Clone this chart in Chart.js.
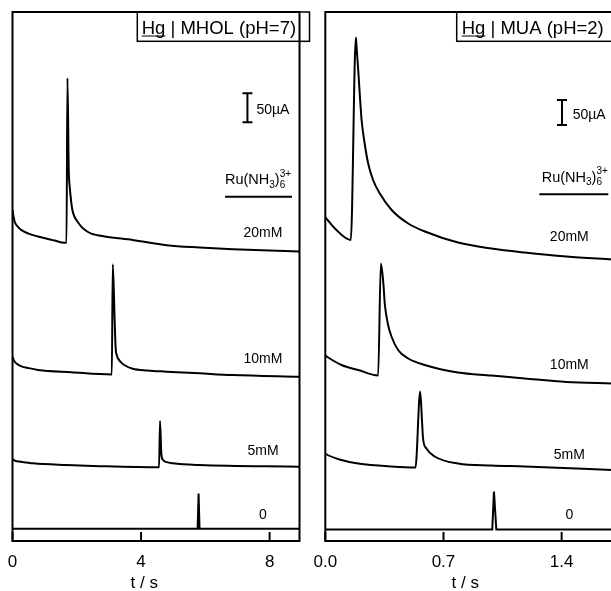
<!DOCTYPE html>
<html>
<head>
<meta charset="utf-8">
<script src="https://cdn.jsdelivr.net/npm/chart.js@4.4.1/dist/chart.umd.min.js"></script>
<style>
  html, body { margin: 0; padding: 0; overflow: hidden; background: #fff; width: 611px; height: 591px; }
  canvas { position: absolute; top: 0; }
  #mhol { left: 0; }
  #mua { left: 311px; }
</style>
</head>
<body>
<canvas id="mhol" width="311" height="591"></canvas>
<canvas id="mua" width="320" height="591"></canvas>
<script>
const traceLabels = ['20mM', '10mM', '5mM', '0'];

// Hg | MHOL (pH=7): t in s, current in µA (traces stacked)
const mholTicks = [0, 4, 8];
const mholT20 = [0, 0.03, 0.07, 0.15, 0.28, 0.5, 0.79, 1.31, 1.62, 1.68, 1.71, 1.75, 1.78, 1.83, 1.87, 1.93, 2.03, 2.14, 2.31, 2.45, 2.87, 3.74, 4.80, 5.82, 6.85, 8.93];
const mholI20 = [571, 560, 550, 543, 536, 530, 525, 518, 514, 514, 798, 640, 611, 583, 569, 559, 550, 542, 534, 530, 525, 519, 510, 506, 503, 499];
const mholT10 = [0, 0.03, 0.07, 0.15, 0.28, 0.5, 0.79, 1.83, 3.09, 3.12, 3.18, 3.21, 3.25, 3.28, 3.38, 3.49, 3.74, 4.2, 4.79, 5.82, 6.85, 8.93];
const mholI10 = [318, 313, 309, 305, 301, 298, 295, 291, 287, 477, 378, 332, 320, 315, 308, 303, 297, 294, 292, 289, 286, 283];
const mholT5 = [0, 0.1, 0.22, 0.64, 1.68, 2.71, 4.56, 4.59, 4.63, 4.68, 4.8, 4.99, 5.82, 8.93];
const mholI5 = [141, 138, 137, 134, 131, 129, 127, 207, 151, 140, 136, 134, 131, 128];
const mholT0 = [0, 5.76, 5.79, 5.82, 8.93];
const mholI0 = [21, 21, 82, 21, 21];

// Hg | MUA (pH=2)
const muaTicks = [0.0, 0.7, 1.4];
const muaT20 = [0, 0.014, 0.057, 0.151, 0.181, 0.185, 0.195, 0.205, 0.215, 0.230, 0.254, 0.283, 0.323, 0.393, 0.491, 0.590, 0.786, 0.984, 1.181, 1.428, 1.70];
const muaI20 = [648, 642, 625, 602, 1007, 989, 942, 889, 842, 802, 755, 722, 695, 662, 635, 619, 597, 585, 577, 569, 563];
const muaT10 = [0, 0.008, 0.096, 0.195, 0.313, 0.329, 0.343, 0.353, 0.372, 0.392, 0.431, 0.491, 0.589, 0.786, 0.984, 1.181, 1.428, 1.70];
const muaI10 = [371, 369, 352, 342, 331, 555, 519, 472, 432, 409, 382, 365, 352, 337, 331, 325, 318, 315];
const muaT5 = [0, 0.008, 0.096, 0.195, 0.392, 0.534, 0.562, 0.573, 0.579, 0.599, 0.648, 0.786, 0.984, 1.181, 1.70];
const muaI5 = [175, 173, 162, 155, 149, 147, 299, 239, 205, 185, 169, 155, 151, 149, 142];
const muaT0 = [0, 0.989, 0.999, 1.013, 1.70];
const muaI0 = [23, 23, 99, 23, 23];

const FONT = '"Liberation Sans", Arial, sans-serif';

function toPoints(ts, vals) {
  return ts.map((t, i) => ({ x: t, y: vals[i] }));
}

function drawRu(ctx, x, base) {
  ctx.textAlign = 'left';
  ctx.font = '14.5px ' + FONT;
  ctx.fillText('Ru(NH', x, base);
  x += ctx.measureText('Ru(NH').width;
  ctx.font = '10px ' + FONT;
  ctx.fillText('3', x, base + 3.5);
  x += ctx.measureText('3').width;
  ctx.font = '14.5px ' + FONT;
  ctx.fillText(')', x, base);
  x += ctx.measureText(')').width;
  ctx.font = '10px ' + FONT;
  ctx.fillText('6', x, base + 3.5);
  ctx.fillText('3+', x, base - 7.5);
}

function panelDecor(p) {
  return {
    id: 'panelDecor',
    afterDraw(chart) {
      const { ctx, chartArea: a, scales: { x, y } } = chart;
      ctx.save();
      ctx.strokeStyle = '#000';
      ctx.fillStyle = '#000';

      // frame + inward ticks
      ctx.lineWidth = 2;
      ctx.strokeRect(a.left, a.top, a.right - a.left, a.bottom - a.top);
      x.ticks.forEach((tk) => {
        const px = x.getPixelForValue(tk.value);
        ctx.beginPath();
        ctx.moveTo(px, a.bottom);
        ctx.lineTo(px, a.bottom - 9);
        ctx.stroke();
      });

      // title box
      ctx.lineWidth = 1.5;
      ctx.strokeRect(p.boxLeft, a.top, a.right - p.boxLeft + 10, 29.3);
      ctx.font = '18.5px ' + FONT;
      ctx.textAlign = 'left';
      ctx.textBaseline = 'alphabetic';
      ctx.fillText(p.title, p.boxLeft + p.titlePad, a.top + 22);
      const hgW = ctx.measureText('Hg').width;
      ctx.lineWidth = 1;
      ctx.beginPath();
      ctx.moveTo(p.boxLeft + p.titlePad, a.top + 24);
      ctx.lineTo(p.boxLeft + p.titlePad + hgW, a.top + 24);
      ctx.stroke();

      // 50 µA scale bar
      const bx = x.getPixelForValue(p.barT);
      const by1 = y.getPixelForValue(p.barTop);
      const by2 = y.getPixelForValue(p.barTop - 50);
      ctx.lineWidth = 2;
      ctx.beginPath();
      ctx.moveTo(bx, by1); ctx.lineTo(bx, by2);
      ctx.moveTo(bx - 5, by1); ctx.lineTo(bx + 5, by1);
      ctx.moveTo(bx - 5, by2); ctx.lineTo(bx + 5, by2);
      ctx.stroke();
      ctx.font = '14px ' + FONT;
      ctx.fillText('50µA', bx + p.barTextGap, (by1 + by2) / 2 + 6);

      // Ru(NH3)6 3+ header
      drawRu(ctx, p.ruX, p.ruBase);
      ctx.lineWidth = 2;
      ctx.beginPath();
      ctx.moveTo(p.ruLine[0], p.ruLine[2]);
      ctx.lineTo(p.ruLine[1], p.ruLine[2]);
      ctx.stroke();

      // concentration labels
      ctx.font = '14px ' + FONT;
      ctx.textAlign = 'center';
      traceLabels.forEach((lab, i) => ctx.fillText(lab, p.labelX, p.labelBase[i]));

      // axis title
      ctx.font = '17px ' + FONT;
      ctx.fillText('t / s', p.axisTitleX, 588);
      ctx.restore();
    }
  };
}

function makePanel(id, series, ticks, xMax, yMax, fmt, pad, decor) {
  return new Chart(document.getElementById(id), {
    type: 'line',
    data: {
      datasets: series.map((pts, i) => ({
        label: traceLabels[i],
        data: pts,
        borderColor: '#000',
        borderWidth: 2,
        pointRadius: 0,
        // smooth the decays, keep the blank (0) trace as straight segments
        cubicInterpolationMode: i < 3 ? 'monotone' : 'default',
        tension: 0,
        fill: false
      }))
    },
    options: {
      responsive: false,
      animation: false,
      devicePixelRatio: 1,
      events: [],
      layout: { padding: pad },
      plugins: { legend: { display: false }, tooltip: { enabled: false } },
      scales: {
        x: {
          type: 'linear',
          min: 0,
          max: xMax,
          grid: { display: false, drawTicks: false },
          border: { display: false },
          afterBuildTicks: (s) => { s.ticks = ticks.map((v) => ({ value: v })); },
          afterFit: (s) => { s.height = 50; s.paddingLeft = 0; s.paddingRight = 0; },
          ticks: {
            autoSkip: false,
            maxRotation: 0,
            padding: 11,
            color: '#000',
            font: { family: FONT, size: 17 },
            callback: fmt
          }
        },
        y: { type: 'linear', display: false, min: 0, max: yMax }
      }
    },
    plugins: [panelDecor(decor)]
  });
}

makePanel('mhol',
  [toPoints(mholT20, mholI20), toPoints(mholT10, mholI10), toPoints(mholT5, mholI5), toPoints(mholT0, mholI0)],
  mholTicks, 8.93, 912, (v) => String(v),
  { left: 12.5, top: 12, right: 11.5, bottom: 0 },
  {
    title: 'Hg | MHOL (pH=7)', boxLeft: 137.3, titlePad: 4.4,
    barT: 7.31, barTop: 772, barTextGap: 9,
    ruX: 225, ruBase: 184, ruLine: [225, 292, 196.7],
    labelX: 263, labelBase: [237.3, 363.3, 455, 519],
    axisTitleX: 144.3
  });

makePanel('mua',
  [toPoints(muaT20, muaI20), toPoints(muaT10, muaI10), toPoints(muaT5, muaI5), toPoints(muaT0, muaI0)],
  muaTicks, 1.70, 1058, (v) => v.toFixed(1),
  { left: 14.3, top: 12, right: 18.7, bottom: 0 },
  {
    title: 'Hg | MUA (pH=2)', boxLeft: 145.7, titlePad: 5,
    barT: 1.402, barTop: 882, barTextGap: 10.7,
    ruX: 230.7, ruBase: 181.7, ruLine: [228.3, 297.3, 194.3],
    labelX: 258.3, labelBase: [240.5, 369, 459, 519],
    axisTitleX: 154.3
  });
</script>
</body>
</html>
